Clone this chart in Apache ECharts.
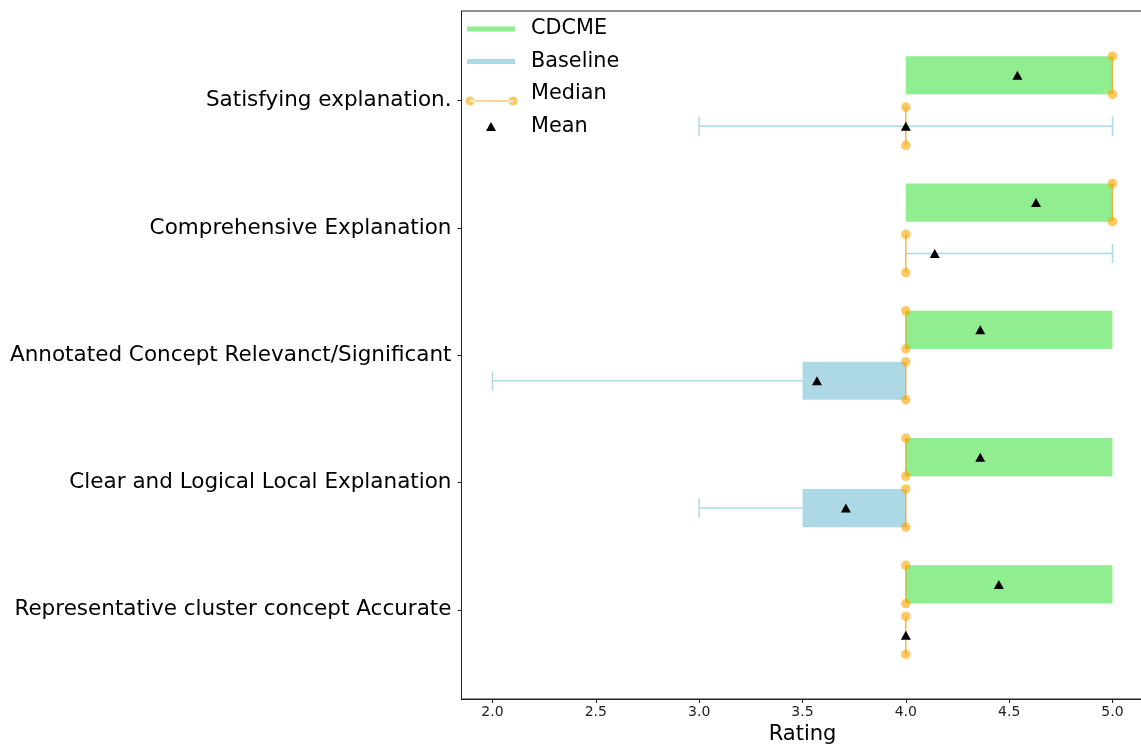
<!DOCTYPE html>
<html>
<head>
<meta charset="utf-8">
<script src="https://cdn.jsdelivr.net/npm/echarts@6/dist/echarts.min.js"></script>
<style>html,body{margin:0;padding:0;background:#fff;}#chart{width:1141px;height:750px;}</style>
</head>
<body>
<div id="chart"></div>
<script>
// Categories, bottom to top (y positions 0..4)
const categories = [
  'Representative cluster concept Accurate',
  'Clear and Logical Local Explanation',
  'Annotated Concept Relevanct/Significant',
  'Comprehensive Explanation',
  'Satisfying explanation.'
];
// CDCME box statistics
const cdcmeQ1 = [4, 4, 4, 4, 4];
const cdcmeQ3 = [5, 5, 5, 5, 5];
const cdcmeMedian = [4, 4, 4, 5, 5];
const cdcmeWhiskerLow = [4, 4, 4, 4, 4];
const cdcmeWhiskerHigh = [5, 5, 5, 5, 5];
const cdcmeMean = [4.45, 4.36, 4.36, 4.63, 4.54];
// Baseline box statistics
const baselineQ1 = [4, 3.5, 3.5, 4, 4];
const baselineQ3 = [4, 4, 4, 4, 4];
const baselineMedian = [4, 4, 4, 4, 4];
const baselineWhiskerLow = [4, 3, 2, 4, 3];
const baselineWhiskerHigh = [4, 4, 4, 5, 5];
const baselineMean = [4.0, 3.71, 3.57, 4.14, 4.0];
// x tick labels
const xTicks = [2.0, 2.5, 3.0, 3.5, 4.0, 4.5, 5.0];

const OFFSET = 0.2, HALF = 0.15, CAP = 0.075;
const GREEN = '#90EE90', BLUE = '#ADD8E6', ORANGE = 'rgba(255,165,0,0.6)';

function boxData(q1, q3, lo, hi, sign) {
  return categories.map((c, i) => [q1[i], q3[i], i + sign * OFFSET, lo[i], hi[i]]);
}
function boxRender(color) {
  return function (params, api) {
    const q1 = api.value(0), q3 = api.value(1), y = api.value(2), lo = api.value(3), hi = api.value(4);
    const a = api.coord([q1, y + HALF]);
    const b = api.coord([q3, y - HALF]);
    const children = [];
    if (q3 > q1) {
      children.push({type: 'rect', shape: {x: a[0], y: a[1], width: b[0] - a[0], height: b[1] - a[1]}, style: {fill: color}});
    }
    const pLo = api.coord([lo, y]), pQ1 = api.coord([q1, y]), pQ3 = api.coord([q3, y]), pHi = api.coord([hi, y]);
    const capT = api.coord([lo, y + CAP])[1], capB = api.coord([lo, y - CAP])[1];
    const ls = {stroke: color, lineWidth: 1.5};
    if (lo < q1) {
      children.push({type: 'line', shape: {x1: pLo[0], y1: pLo[1], x2: pQ1[0], y2: pQ1[1]}, style: ls});
      children.push({type: 'line', shape: {x1: pLo[0], y1: capT, x2: pLo[0], y2: capB}, style: ls});
    }
    if (hi > q3) {
      children.push({type: 'line', shape: {x1: pQ3[0], y1: pQ3[1], x2: pHi[0], y2: pHi[1]}, style: ls});
      children.push({type: 'line', shape: {x1: pHi[0], y1: capT, x2: pHi[0], y2: capB}, style: ls});
    }
    return {type: 'group', children: children};
  };
}
const medianData = categories.map((c, i) => [cdcmeMedian[i], i + OFFSET])
  .concat(categories.map((c, i) => [baselineMedian[i], i - OFFSET]));
const meanData = categories.map((c, i) => [cdcmeMean[i], i + OFFSET])
  .concat(categories.map((c, i) => [baselineMean[i], i - OFFSET]));

const chart = echarts.init(document.getElementById('chart'));
const font = 'DejaVu Sans';
chart.setOption({
  animation: false,
  textStyle: {fontFamily: font},
  grid: {left: 461.5, top: 11, width: 682, height: 688, show: true, borderColor: '#222', borderWidth: 1,
         backgroundColor: 'transparent', outerBoundsMode: 'none', containLabel: false},
  legend: {
    orient: 'vertical', left: 464, top: 17, padding: 0, itemGap: 8.5,
    itemWidth: 62, itemHeight: 24, symbolKeepAspect: true,
    textStyle: {fontSize: 20.8, color: '#000', fontFamily: font},
    data: [
      {name: 'CDCME', icon: 'path://M0,0M62,24M3,9.5H51V14.5H3Z', itemStyle: {color: GREEN}},
      {name: 'Baseline', icon: 'path://M0,0M62,24M3,9.5H51V14.5H3Z', itemStyle: {color: BLUE}},
      {name: 'Median', icon: 'path://M0,0M62,24M1.5,19a4.5,4.5 0 1,0 9,0a4.5,4.5 0 1,0 -9,0ZM44.5,19a4.5,4.5 0 1,0 9,0a4.5,4.5 0 1,0 -9,0ZM6,18.3H49V19.7H6Z', itemStyle: {color: ORANGE}},
      {name: 'Mean', icon: 'path://M0,0M62,24M22,16.5L27,7.5L32,16.5Z', itemStyle: {color: '#000'}}
    ]
  },
  xAxis: {
    type: 'value', min: 1.85, max: 5.15,
    name: 'Rating', nameLocation: 'middle', nameGap: 25,
    nameTextStyle: {fontSize: 21, color: '#000', fontFamily: font},
    axisLine: {show: true, onZero: false, lineStyle: {color: '#222', width: 1}},
    axisTick: {show: true, length: 4, customValues: xTicks, lineStyle: {color: '#222'}},
    axisLabel: {customValues: xTicks, fontSize: 14, color: '#222', margin: 6, formatter: v => Number(v).toFixed(1)},
    splitLine: {show: false}
  },
  yAxis: {
    type: 'value', min: -0.7, max: 4.705,
    axisLine: {show: true, onZero: false, lineStyle: {color: '#222', width: 1}},
    axisTick: {show: true, length: 4, customValues: [0, 1, 2, 3, 4], lineStyle: {color: '#222'}},
    axisLabel: {customValues: [0, 1, 2, 3, 4], fontSize: 21.5, color: '#000', margin: 10, padding: [4, 0, 0, 0],
                formatter: v => categories[Math.round(v)]},
    splitLine: {show: false}
  },
  series: [
    {name: 'CDCME', type: 'custom', renderItem: boxRender(GREEN), encode: {x: [0, 1, 3, 4], y: 2},
     itemStyle: {color: GREEN}, data: boxData(cdcmeQ1, cdcmeQ3, cdcmeWhiskerLow, cdcmeWhiskerHigh, 1), z: 2},
    {name: 'Baseline', type: 'custom', renderItem: boxRender(BLUE), encode: {x: [0, 1, 3, 4], y: 2},
     itemStyle: {color: BLUE}, data: boxData(baselineQ1, baselineQ3, baselineWhiskerLow, baselineWhiskerHigh, -1), z: 2},
    {name: 'Median', type: 'custom', encode: {x: 0, y: 1}, itemStyle: {color: ORANGE}, z: 3,
     renderItem: function (params, api) {
       const m = api.value(0), y = api.value(1);
       const t = api.coord([m, y + HALF]), b = api.coord([m, y - HALF]);
       return {type: 'group', children: [
         {type: 'line', shape: {x1: t[0], y1: t[1], x2: b[0], y2: b[1]}, style: {stroke: 'rgba(235,160,20,0.75)', lineWidth: 1.5}},
         {type: 'circle', shape: {cx: t[0], cy: t[1], r: 4.8}, style: {fill: ORANGE}},
         {type: 'circle', shape: {cx: b[0], cy: b[1], r: 4.8}, style: {fill: ORANGE}}
       ]};
     },
     data: medianData},
    {name: 'Mean', type: 'scatter', symbol: 'triangle', symbolSize: [10, 9], itemStyle: {color: '#000', opacity: 1}, z: 4, data: meanData}
  ]
});
</script>
</body>
</html>
